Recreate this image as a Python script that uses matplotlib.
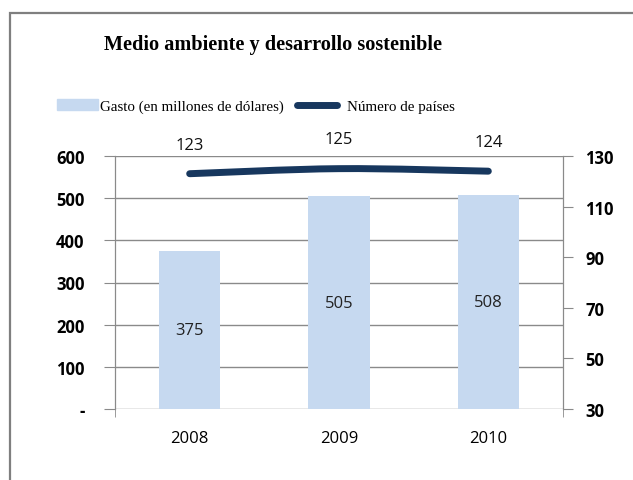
import numpy as np
import matplotlib.pyplot as plt
from matplotlib.path import Path
from matplotlib.patches import PathPatch, Rectangle
from matplotlib.lines import Line2D

# Datos
years = ['2008', '2009', '2010']
gasto = [375, 505, 508]          # millones de dólares
paises = [123, 125, 124]         # número de países
left_ticks = [0, 100, 200, 300, 400, 500, 600]
right_ticks = [30, 50, 70, 90, 110, 130]

bar_color = '#C6D9F0'
line_color = '#17375E'
grid_color = '#8A8A8A'
sans = 'Open Sans'
serif = 'Liberation Serif'

fig = plt.figure(figsize=(6.33, 4.81), dpi=100)
W, H = 633, 481

ax = fig.add_axes([115 / W, 1 - 410 / H, 448 / W, 253 / H])
ax2 = ax.twinx()

x = np.arange(len(years))

# Barras
ax.bar(x, gasto, width=0.41, color=bar_color, zorder=2)
for xi, v in zip(x, gasto):
    ax.text(xi, v / 2, str(v), ha='center', va='center',
            fontsize=12, family=sans, color='#222222', zorder=3)

ax.set_xlim(-0.5, 2.5)
ax.set_ylim(0, 600)
ax.set_yticks(left_ticks)
ax.set_yticklabels(['-' if t == 0 else str(t) for t in left_ticks],
                   fontsize=12, family=sans, fontweight='bold')
ax.yaxis.grid(True, color=grid_color, lw=1)
ax.set_axisbelow(True)
ax.tick_params(axis='y', length=8, color=grid_color, pad=14)

ax.set_xticks(x)
ax.set_xticklabels(years, fontsize=12, family=sans)
ax.tick_params(axis='x', length=0, pad=15)
ax.set_xticks([-0.5, 2.5], minor=True)
ax.tick_params(axis='x', which='minor', length=6, color=grid_color)

for a in (ax, ax2):
    a.spines['top'].set_visible(False)
    a.spines['bottom'].set_visible(False)
    a.spines['left'].set_color(grid_color)
    a.spines['right'].set_color(grid_color)

# Línea suavizada (número de países) en el eje secundario
ax2.set_ylim(30, 130)
ax2.set_yticks(right_ticks)
ax2.set_yticklabels([str(t) for t in right_ticks], fontsize=12,
                    family=sans, fontweight='bold')
ax2.tick_params(axis='y', length=7, color=grid_color, pad=9)

pts = np.column_stack([x, paises]).astype(float)
verts = [pts[0]]
codes = [Path.MOVETO]
for i in range(len(pts) - 1):
    p0 = pts[i - 1] if i > 0 else pts[i]
    p1, p2 = pts[i], pts[i + 1]
    p3 = pts[i + 2] if i + 2 < len(pts) else pts[i + 1]
    c1 = p1 + (p2 - p0) / 6
    c2 = p2 - (p3 - p1) / 6
    verts += [c1, c2, p2]
    codes += [Path.CURVE4] * 3
ax2.add_patch(PathPatch(Path(verts, codes), fill=False, edgecolor=line_color,
                        lw=5, capstyle='round', joinstyle='round', zorder=4))
for xi, v in zip(x, paises):
    ax2.annotate(str(v), (xi, v), xytext=(0, 21), textcoords='offset points',
                 ha='center', va='center', fontsize=12, family=sans,
                 color='#111111', annotation_clip=False)

# Título
fig.text(273 / W, 1 - 45 / H, 'Medio ambiente y desarrollo sostenible',
         ha='center', va='center', fontsize=14.6, fontweight='bold', family=serif)

# Leyenda: una entrada por leyenda para colocar cada una como en el original
leg_y = 1 - 107 / H
leg_kw = dict(loc='center left', frameon=False, borderpad=0, borderaxespad=0,
              prop={'family': serif, 'size': 10.8}, handleheight=0.7)
fig.legend([Rectangle((0, 0), 1, 1, color=bar_color)],
           ['Gasto (en millones de dólares)'],
           bbox_to_anchor=(57 / W, leg_y), handlelength=2.73,
           handletextpad=0.13, **leg_kw)
fig.legend([Line2D([], [], color=line_color, lw=5, solid_capstyle='round')],
           ['Número de países'],
           bbox_to_anchor=(296.5 / W, leg_y), handlelength=2.67,
           handletextpad=0.7, **leg_kw)

# Marco del gráfico, en píxeles
fig.add_artist(Line2D([9.5, 9.5, W + 5], [-5, H - 13.5, H - 13.5],
                      transform=None, color='#7F7F7F', lw=1.6,
                      solid_joinstyle='miter', zorder=100))

fig.savefig('out.png', dpi=100)
